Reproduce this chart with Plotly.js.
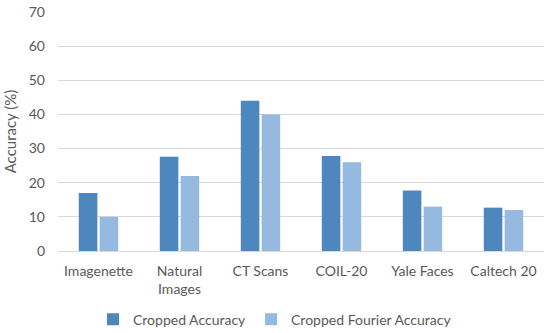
<!DOCTYPE html>
<html>
<head>
<meta charset="utf-8">
<script src="https://cdn.plot.ly/plotly-3.0.1.min.js"></script>
<style>html,body{margin:0;padding:0;background:#fff;}#chart{width:550px;height:333px;}</style>
</head>
<body>
<div id="chart"></div>
<script>
const categories = ["Imagenette", "Natural<br>Images", "CT Scans", "COIL-20", "Yale Faces", "Caltech 20"];
const croppedAccuracy = [17.0, 27.6, 44.0, 27.8, 17.7, 12.7];
const croppedFourierAccuracy = [10.0, 22.0, 40.0, 26.0, 13.0, 12.0];
const yTicks = [0, 10, 20, 30, 40, 50, 60, 70];

const fam = "Lato, 'Open Sans', sans-serif";
const grey = "#595959";

const data = [
  {type: "bar", name: "Cropped Accuracy", x: categories, y: croppedAccuracy,
   marker: {color: "#4E86BE"}},
  {type: "bar", name: "Cropped Fourier Accuracy", x: categories, y: croppedFourierAccuracy,
   marker: {color: "#96B9E0"}}
];

const layout = {
  width: 550, height: 333,
  margin: {l: 58, r: 6, t: 11.5, b: 82.3, autoexpand: false},
  paper_bgcolor: "#fff", plot_bgcolor: "#fff",
  font: {family: fam, color: grey, size: 14},
  barmode: "group", bargap: 0.485, bargroupgap: 0.11,
  showlegend: true,
  legend: {orientation: "h", x: 0.5, xanchor: "center", xref: "container",
           y: 0.04, yanchor: "middle", yref: "container",
           font: {family: fam, size: 14, color: grey}, itemwidth: 30,
           traceorder: "normal"},
  xaxis: {type: "category", showgrid: false, ticks: "", showline: false,
          ticklabelstandoff: 10,
          tickfont: {family: fam, size: 14, color: grey}},
  yaxis: {range: [0, 70], tickvals: yTicks, showgrid: true, gridcolor: "#D9D9D9", gridwidth: 1,
          zeroline: true, zerolinecolor: "#D9D9D9", zerolinewidth: 1, showline: false, ticks: "",
          ticklabelstandoff: 12,
          tickfont: {family: fam, size: 14, color: grey},
          title: {text: "Accuracy (%)", font: {family: fam, size: 15, color: grey}, standoff: 8}}
};

Plotly.newPlot("chart", data, layout, {displayModeBar: false, staticPlot: true});
</script>
</body>
</html>
